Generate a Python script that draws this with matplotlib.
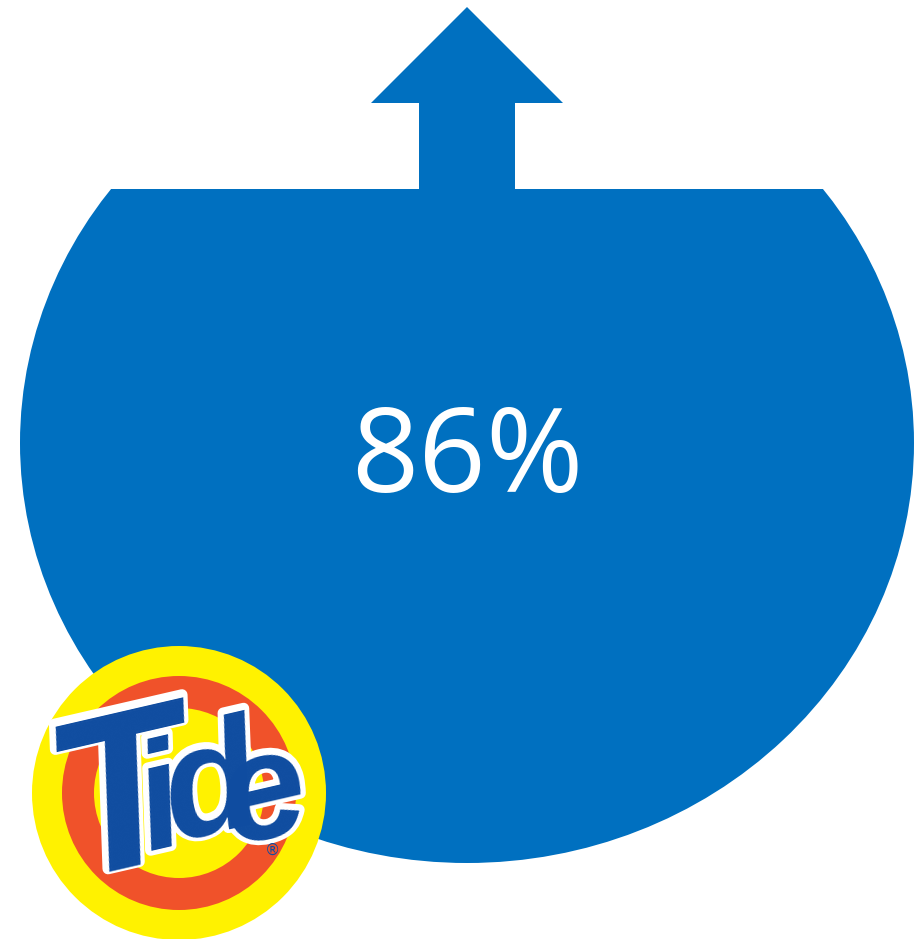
import numpy as np
import matplotlib
matplotlib.use('Agg')
import matplotlib.pyplot as plt
from matplotlib.patches import Ellipse, Rectangle, Polygon
import matplotlib.patheffects as pe

# data
share_value = 86            # percent shown in the gauge
share_label = '86%'
brand_letters = ['T', 'i', 'd', 'e']
brand_mark = '®'

GAUGE_BLUE = '#0070C0'
TIDE_BLUE = '#0F4CA0'
TIDE_ORANGE = '#F0522A'
TIDE_YELLOW = '#FFF200'

W, H = 920, 939


def fill_level(frac, cy, b):
    """
    y (pixels, downwards) of the liquid surface so that the filled part
    of the ellipse holds `frac` of its area.
    """
    target = (1 - frac) * 2 * np.pi
    lo, hi = 0.0, 2 * np.pi
    for _ in range(60):
        mid = (lo + hi) / 2
        if mid - np.sin(mid) < target:
            lo = mid
        else:
            hi = mid
    theta = (lo + hi) / 2
    d = b * (1 - np.cos(theta / 2))
    return cy - b + d


def draw_gauge(ax):
    cx, cy, a, b = 467, 443, 447, 420
    level = fill_level(share_value / 100, cy, b)

    body = Ellipse((cx, cy), 2 * a, 2 * b, facecolor=GAUGE_BLUE, edgecolor='none')
    ax.add_patch(body)
    clip = Rectangle((0, level), W, H - level, transform=ax.transData)
    body.set_clip_path(clip)

    # up arrow sitting on the surface
    tip, head_base = 7, 103
    head_hw, shaft_hw = 96, 48
    arrow = Polygon([
        (cx, tip), (cx + head_hw, head_base), (cx + shaft_hw, head_base),
        (cx + shaft_hw, level + 1), (cx - shaft_hw, level + 1),
        (cx - shaft_hw, head_base), (cx - head_hw, head_base)],
        closed=True, facecolor=GAUGE_BLUE, edgecolor='none')
    ax.add_patch(arrow)

    ax.text(cx, 492, share_label, color='white', fontsize=85,
            family=['Open Sans', 'DejaVu Sans'], ha='center', va='baseline')


def draw_logo(ax):
    lx, ly = 179, 793
    for r, col in [(147, TIDE_YELLOW), (117, TIDE_ORANGE), (85, TIDE_YELLOW)]:
        ax.add_patch(Ellipse((lx, ly), 2 * r, 2 * r, facecolor=col, edgecolor='none'))

    family = ['Liberation Sans Narrow', 'Liberation Sans', 'DejaVu Sans']
    places = [(122, 806, 160), (160, 808, 110), (211, 790, 112), (264, 798, 110)]
    # white outline first, blue letters on top
    for stroke in (True, False):
        for ch, (x, y, size) in zip(brand_letters, places):
            kw = {}
            if stroke:
                kw['path_effects'] = [pe.withStroke(linewidth=8, foreground='white')]
            ax.text(x, y, ch, color='white' if stroke else TIDE_BLUE,
                    fontsize=size, family=family, weight='bold', style='italic',
                    rotation=13, ha='center', va='center', **kw)
    ax.text(273, 850, brand_mark, color=TIDE_BLUE, fontsize=11,
            ha='center', va='center')


def main():
    fig = plt.figure(figsize=(9.2, 9.39), dpi=100)
    ax = fig.add_axes([0, 0, 1, 1])
    ax.set_xlim(0, W)
    ax.set_ylim(H, 0)
    ax.axis('off')

    draw_gauge(ax)
    draw_logo(ax)

    fig.savefig('out.png', dpi=100, facecolor='white')


if __name__ == '__main__':
    main()
